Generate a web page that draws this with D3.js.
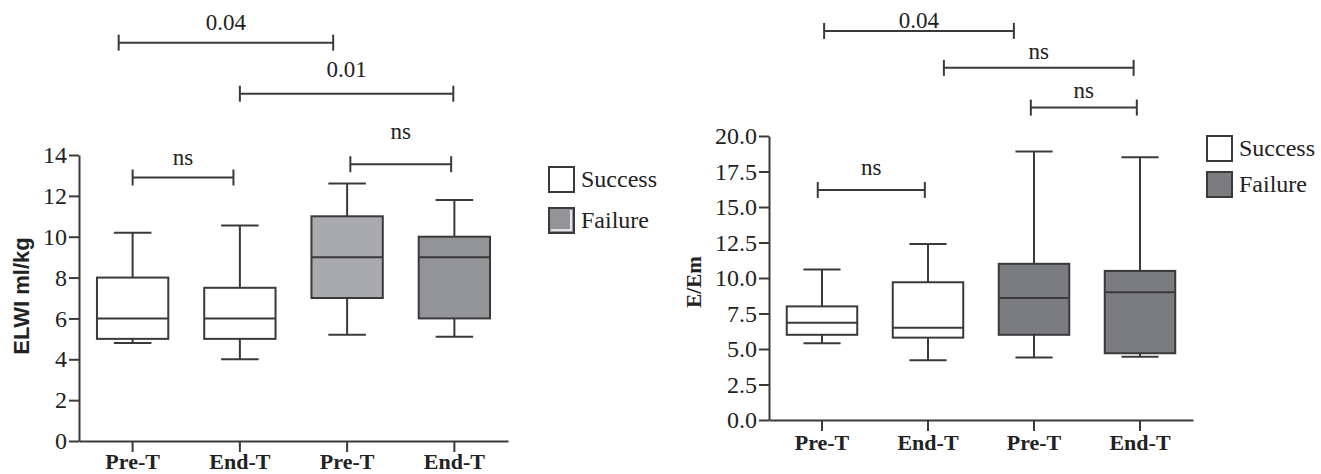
<!DOCTYPE html>
<html><head><meta charset="utf-8">
<script src="https://cdn.jsdelivr.net/npm/d3@7"></script>
<style>
html,body{margin:0;padding:0;background:#fff;}
svg{display:block;}
</style></head>
<body>
<svg id="chart" width="1321" height="474"></svg>
<script>
// ---------- data ----------
const categories = ["Pre-T", "End-T", "Pre-T", "End-T"];
const groups = ["Success", "Success", "Failure", "Failure"];

// Left panel: ELWI ml/kg
const elwiMin = [4.8, 4.0, 5.2, 5.1];
const elwiQ1 = [5.0, 5.0, 7.0, 6.0];
const elwiMed = [6.0, 6.0, 9.0, 9.0];
const elwiQ3 = [8.0, 7.5, 11.0, 10.0];
const elwiMax = [10.2, 10.55, 12.6, 11.8];
const elwiTicks = [0, 2, 4, 6, 8, 10, 12, 14];
// brackets: [from index, to index, y value, label, label y value]
const elwiBrackets = [
  [-0.13, 1.87, 19.5, "0.04", 20.1],
  [1.0, 2.99, 17.0, "0.01", 17.8],
  [2.03, 2.97, 13.55, "ns", 14.8],
  [0.0, 0.94, 12.9, "ns", 13.5]
];

// Right panel: E/Em
const eeMin = [5.4, 4.2, 4.4, 4.45];
const eeQ1 = [6.0, 5.8, 6.0, 4.7];
const eeMed = [6.85, 6.5, 8.6, 9.0];
const eeQ3 = [8.0, 9.7, 11.0, 10.5];
const eeMax = [10.6, 12.4, 18.9, 18.5];
const eeTicks = [0, 2.5, 5, 7.5, 10, 12.5, 15, 17.5, 20];
const eeBrackets = [
  [0.02, 1.81, 27.4, "0.04", 27.6],
  [1.15, 2.94, 24.8, "ns", 25.4],
  [1.97, 2.97, 22.0, "ns", 22.7],
  [-0.04, 0.97, 16.2, "ns", 17.25]
];

const legendLabels = ["Success", "Failure"];

// ---------- drawing ----------
const svg = d3.select("#chart");
const INK = "#3a3a3a";
const SERIF = "'Liberation Serif','Times New Roman',serif";
const SANS = "'Liberation Sans',Arial,sans-serif";

function panel(cfg) {
  const g = svg.append("g");
  const x = d3.scaleBand().domain(d3.range(categories.length)).range([cfg.x0, cfg.x1]).paddingInner(0).paddingOuter(0);
  const y = d3.scaleLinear().domain([0, cfg.ymax]).range([cfg.y0, cfg.y1]);
  const step = x.step();
  const cx = i => x(0) + step / 2 + i * step;
  const bw = step * 0.665, cw = step * 0.35;

  // y axis
  const ya = g.append("g").attr("transform", `translate(${cfg.x0},0)`)
    .call(d3.axisLeft(y).tickValues(cfg.ticks).tickFormat(cfg.fmt).tickSize(10).tickSizeOuter(0).tickPadding(2));
  ya.select(".domain").attr("stroke", INK).attr("stroke-width", 2);
  ya.selectAll(".tick line").attr("stroke", INK).attr("stroke-width", 2);
  ya.selectAll(".tick text").attr("font-family", SERIF).attr("font-size", cfg.tickFont).attr("fill", "#222");

  // x axis
  const xa = g.append("g").attr("transform", `translate(0,${cfg.y0})`)
    .call(d3.axisBottom(x).tickFormat(i => categories[i]).tickSize(11).tickSizeOuter(0));
  xa.select(".domain").attr("stroke", INK).attr("stroke-width", 2);
  xa.selectAll(".tick line").attr("stroke", INK).attr("stroke-width", 2);
  xa.selectAll(".tick text").attr("font-family", SERIF).attr("font-weight", "bold")
    .attr("font-size", 22).attr("fill", "#222").attr("dy", null).attr("y", cfg.xLabelDy);

  // y label
  g.append("text").attr("transform", `translate(${cfg.ylabX},${cfg.ylabY}) rotate(-90)`)
    .attr("text-anchor", "middle").attr("font-family", cfg.ylabFamily).attr("font-weight", "bold")
    .attr("font-size", cfg.ylabSize).attr("fill", "#222").text(cfg.ylab);

  // boxes
  const idx = d3.range(categories.length);
  const bg = g.selectAll("g.box").data(idx).join("g").attr("class", "box");
  bg.append("line").attr("x1", cx).attr("x2", cx).attr("y1", i => y(cfg.max[i])).attr("y2", i => y(cfg.q3[i]))
    .attr("stroke", INK).attr("stroke-width", 2);
  bg.append("line").attr("x1", cx).attr("x2", cx).attr("y1", i => y(cfg.q1[i])).attr("y2", i => y(cfg.min[i]))
    .attr("stroke", INK).attr("stroke-width", 2);
  bg.append("line").attr("x1", i => cx(i) - cw / 2).attr("x2", i => cx(i) + cw / 2)
    .attr("y1", i => y(cfg.max[i])).attr("y2", i => y(cfg.max[i])).attr("stroke", INK).attr("stroke-width", 2);
  bg.append("line").attr("x1", i => cx(i) - cw / 2).attr("x2", i => cx(i) + cw / 2)
    .attr("y1", i => y(cfg.min[i])).attr("y2", i => y(cfg.min[i])).attr("stroke", INK).attr("stroke-width", 2);
  bg.append("rect").attr("x", i => cx(i) - bw / 2).attr("width", bw)
    .attr("y", i => y(cfg.q3[i])).attr("height", i => y(cfg.q1[i]) - y(cfg.q3[i]))
    .attr("fill", i => cfg.fills[i]).attr("stroke", INK).attr("stroke-width", 2);
  bg.append("line").attr("x1", i => cx(i) - bw / 2).attr("x2", i => cx(i) + bw / 2)
    .attr("y1", i => y(cfg.med[i])).attr("y2", i => y(cfg.med[i])).attr("stroke", INK).attr("stroke-width", 2);

  // brackets
  const br = g.selectAll("g.br").data(cfg.brackets).join("g").attr("class", "br");
  br.append("line").attr("x1", d => cx(d[0])).attr("x2", d => cx(d[1])).attr("y1", d => y(d[2])).attr("y2", d => y(d[2]))
    .attr("stroke", INK).attr("stroke-width", 2);
  br.append("line").attr("x1", d => cx(d[0])).attr("x2", d => cx(d[0])).attr("y1", d => y(d[2]) - 8).attr("y2", d => y(d[2]) + 8)
    .attr("stroke", INK).attr("stroke-width", 2);
  br.append("line").attr("x1", d => cx(d[1])).attr("x2", d => cx(d[1])).attr("y1", d => y(d[2]) - 8).attr("y2", d => y(d[2]) + 8)
    .attr("stroke", INK).attr("stroke-width", 2);
  br.append("text").attr("x", d => (cx(d[0]) + cx(d[1])) / 2).attr("y", d => y(d[4]))
    .attr("text-anchor", "middle").attr("font-family", SERIF).attr("font-size", 23).attr("fill", "#222").text(d => d[3]);

  // legend
  const lg = g.selectAll("g.lg").data(legendLabels).join("g").attr("class", "lg")
    .attr("transform", (d, i) => `translate(${cfg.legX},${cfg.legY + i * cfg.legGap})`);
  lg.append("rect").attr("x", 0).attr("y", 0).attr("width", 25).attr("height", 25)
    .attr("fill", (d, i) => cfg.legFills[i]).attr("stroke", INK).attr("stroke-width", 2);
  if (cfg.legInner) {
    lg.filter((d, i) => i === 1).append("polyline").attr("points", "22,2 22,22 2,22")
      .attr("fill", "none").attr("stroke", "#fff").attr("stroke-width", 1.5);
  }
  lg.append("text").attr("x", 32).attr("y", 20).attr("font-family", SERIF).attr("font-size", 24)
    .attr("fill", "#222").text(d => d);
}

panel({
  x0: 79, x1: 508, y0: 441, y1: 155, ymax: 14,
  ticks: elwiTicks, fmt: d3.format("d"), tickFont: 24, xLabelDy: 28,
  min: elwiMin, q1: elwiQ1, med: elwiMed, q3: elwiQ3, max: elwiMax,
  fills: ["#ffffff", "#ffffff", "#a9aaae", "#939498"],
  brackets: elwiBrackets,
  ylab: "ELWI ml/kg", ylabX: 29, ylabY: 296, ylabFamily: SANS, ylabSize: 22,
  legX: 549, legY: 167, legGap: 41, legFills: ["#ffffff", "#939498"], legInner: true
});

panel({
  x0: 769, x1: 1193, y0: 420, y1: 136, ymax: 20,
  ticks: eeTicks, fmt: d3.format(".1f"), tickFont: 24, xLabelDy: 30,
  min: eeMin, q1: eeQ1, med: eeMed, q3: eeQ3, max: eeMax,
  fills: ["#ffffff", "#ffffff", "#7b7c80", "#7b7c80"],
  brackets: eeBrackets,
  ylab: "E/Em", ylabX: 701, ylabY: 282, ylabFamily: SERIF, ylabSize: 21,
  legX: 1207, legY: 136, legGap: 36, legFills: ["#ffffff", "#7b7c80"], legInner: false
});
</script>
</body></html>
